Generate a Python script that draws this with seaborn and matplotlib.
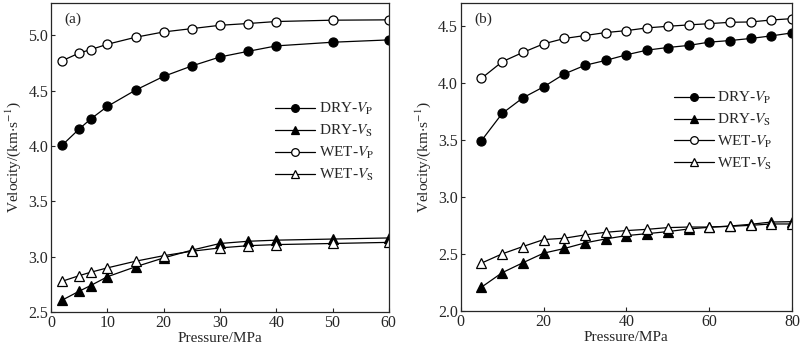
import numpy as np
import pandas as pd
import matplotlib
matplotlib.use("Agg")
import matplotlib.pyplot as plt
import seaborn as sns

# panel (a)
p_a = [2, 5, 7, 10, 15, 20, 25, 30, 35, 40, 50, 60]
dry_vp_a = [4.01, 4.155, 4.243, 4.358, 4.505, 4.629, 4.723, 4.804, 4.855, 4.904, 4.937, 4.958]
dry_vs_a = [2.61, 2.69, 2.74, 2.82, 2.91, 2.99, 3.06, 3.12, 3.14, 3.15, 3.16, 3.17]
wet_vp_a = [4.771, 4.840, 4.870, 4.919, 4.982, 5.030, 5.060, 5.090, 5.106, 5.124, 5.136, 5.139]
wet_vs_a = [2.78, 2.83, 2.86, 2.90, 2.96, 3.01, 3.05, 3.08, 3.10, 3.11, 3.12, 3.13]

# panel (b)
p_b = [5, 10, 15, 20, 25, 30, 35, 40, 45, 50, 55, 60, 65, 70, 75, 80]
dry_vp_b = [3.495, 3.733, 3.870, 3.966, 4.079, 4.155, 4.198, 4.247, 4.288, 4.311,
            4.329, 4.358, 4.372, 4.390, 4.413, 4.439]
wet_vp_b = [4.041, 4.186, 4.268, 4.343, 4.390, 4.416, 4.442, 4.459, 4.483, 4.497,
            4.509, 4.520, 4.532, 4.535, 4.552, 4.564]
dry_vs_b = [2.21, 2.337, 2.424, 2.508, 2.549, 2.598, 2.633, 2.662, 2.679, 2.697,
            2.720, 2.735, 2.746, 2.761, 2.781, 2.784]
wet_vs_b = [2.421, 2.502, 2.566, 2.627, 2.639, 2.668, 2.691, 2.706, 2.717, 2.732,
            2.737, 2.737, 2.743, 2.752, 2.764, 2.764]

labels = [r'DRY-$V_{\mathrm{P}}$', r'DRY-$V_{\mathrm{S}}$',
          r'WET-$V_{\mathrm{P}}$', r'WET-$V_{\mathrm{S}}$']
styles = [('o', 'black'), ('^', 'black'), ('o', 'white'), ('^', 'white')]

sns.set_style('ticks')
plt.rcParams['font.family'] = ['Liberation Serif', 'DejaVu Serif']
plt.rcParams['mathtext.fontset'] = 'stix'
plt.rcParams['font.size'] = 11
plt.rcParams['xtick.direction'] = 'in'
plt.rcParams['ytick.direction'] = 'in'

fig = plt.figure(figsize=(8, 3.48), dpi=100)
ax_a = fig.add_axes([0.064, 0.103, 0.422, 0.888])
ax_b = fig.add_axes([0.576, 0.106, 0.414, 0.885])


def draw(ax, p, series, xlim, ylim, xticks, tag, leg_pos):
    for vals, lab, (mk, fc) in zip(series, labels, styles):
        df = pd.DataFrame({'p': p, 'v': vals})
        sns.lineplot(data=df, x='p', y='v', ax=ax, color='black', lw=0.9,
                     marker=mk, markersize=6.5, markerfacecolor=fc,
                     markeredgecolor='black', markeredgewidth=0.9, label=lab)
    ax.set_xlim(*xlim)
    ax.set_ylim(*ylim)
    ax.set_xticks(xticks)
    ax.set_yticks(np.arange(ylim[0], ylim[1], 0.5))
    ax.yaxis.set_major_formatter(matplotlib.ticker.FormatStrFormatter('%.1f'))
    ax.set_xlabel('Pressure/MPa', labelpad=1)
    ax.set_ylabel(r'Velocity/(km$\cdot$s$^{-1}$)', labelpad=4)
    ax.tick_params(length=3, width=0.8, pad=2, top=False, right=False,
                   labelsize=11.5)
    for s in ax.spines.values():
        s.set_linewidth(0.9)
        s.set_visible(True)
    ax.text(0.04, 0.97, tag, transform=ax.transAxes, va='top', ha='left')
    leg = ax.legend(loc='center left', bbox_to_anchor=leg_pos, frameon=False,
                    handlelength=2.6, handletextpad=0.25, labelspacing=0.38,
                    borderaxespad=0, markerscale=0.85)


draw(ax_a, p_a, [dry_vp_a, dry_vs_a, wet_vp_a, wet_vs_a], (0, 60), (2.5, 5.29),
     range(0, 61, 10), '(a)', (0.645, 0.55))
draw(ax_b, p_b, [dry_vp_b, dry_vs_b, wet_vp_b, wet_vs_b], (0, 80), (2.0, 4.7),
     range(0, 81, 20), '(b)', (0.625, 0.585))

fig.savefig('out.png', dpi=100)
